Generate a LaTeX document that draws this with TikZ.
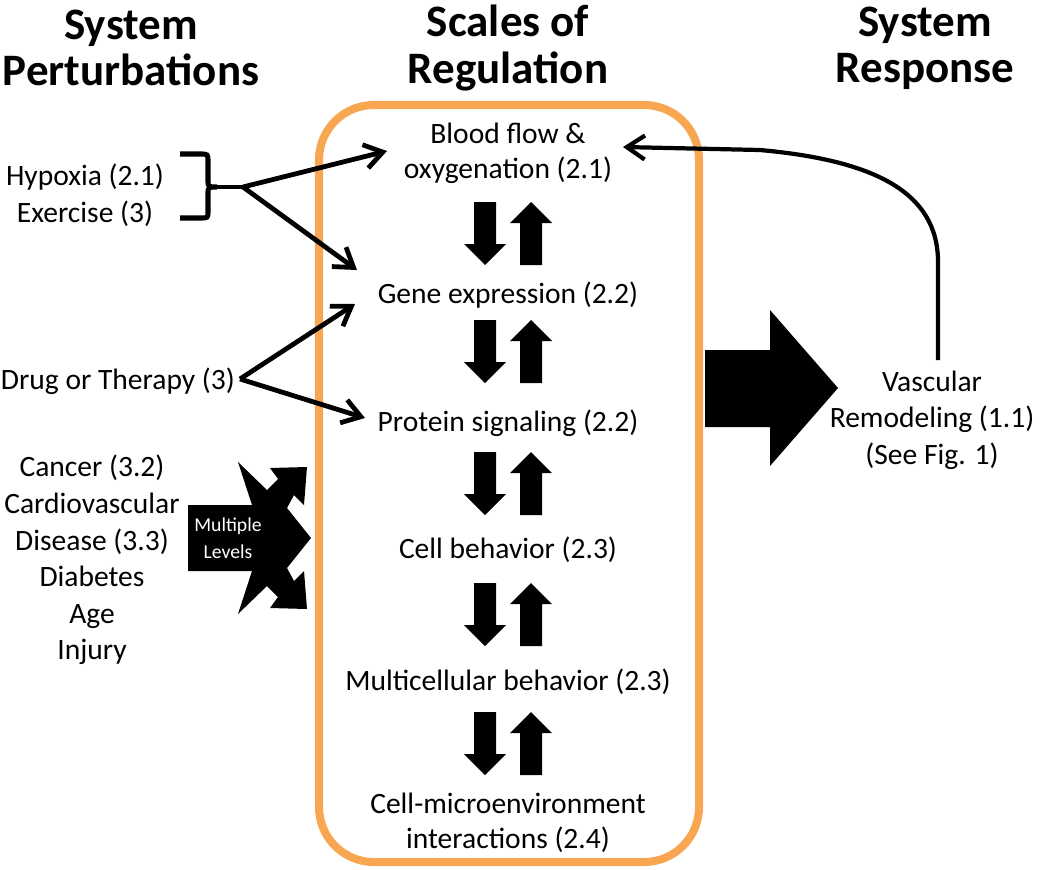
\documentclass[tikz,border=0pt]{standalone}
\usepackage{fontspec}
\setmainfont{Carlito}
\usetikzlibrary{arrows.meta}
\definecolor{boxorange}{RGB}{248,166,82}

\tikzset{
  title/.style={font=\bfseries\fontsize{32}{33}\selectfont, align=center},
  level/.style={font=\fontsize{21}{25}\selectfont, align=center},
  side/.style={font=\fontsize{21}{26}\selectfont, align=center},
  link/.style={line width=3.4pt, -{Straight Barb[length=4.5mm,width=6mm]}},
}

\begin{document}
\begin{tikzpicture}[x=0.025cm,y=-0.025cm]
      \useasboundingbox (0,0) rectangle (1050,869);
      % column titles
      \node [title] (tpert) at (131,48) {System\\Perturbations};
      \node [title] (treg) at (508,48) {Scales of\\Regulation};
      \node [title] (tresp) at (925,48) {System\\Response};
      % frame round the scales
      \draw [boxorange,line width=5.7pt,rounded corners=39pt] (319,105) rectangle (699,862);
      \node [level] (blood) at (508,153) {Blood flow \&\\oxygenation (2.1)};
      \node [level] (gene) at (508,295) {Gene expression (2.2)};
      \node [level] (prot) at (508,423) {Protein signaling (2.2)};
      \node [level] (cell) at (508,550) {Cell behavior (2.3)};
      \node [level] (multi) at (508,682) {Multicellular behavior (2.3)};
      \node [level] (micro) at (508,823) {Cell-microenvironment\\interactions (2.4)};
      \foreach \y in {202,320,452,583,712} {
        \fill (474,\y) -- (496,\y) -- (496,\y+42) -- (506,\y+42) -- (485,\y+63) -- (464,\y+42) -- (474,\y+42) -- cycle;
        \fill (531,\y) -- (552,\y+21) -- (542,\y+21) -- (542,\y+63) -- (520,\y+63) -- (520,\y+21) -- (510,\y+21) -- cycle;
      }
      % perturbations
      \node [side] (hyp) at (85,195) {Hypoxia (2.1)\\Exercise (3)};
      \node [side,anchor=west] (drug) at (-4,381) {Drug or Therapy (3)};
      \node [side] (dis) at (92,560) {Cancer (3.2)\\Cardiovascular\\Disease (3.3)\\Diabetes\\Age\\Injury};
      \draw [line width=3.6pt] (180,154) -- (200,154) .. controls (208,154) .. (208,162) -- (208,180) .. controls (208,187) .. (217,187) .. controls (208,187) .. (208,194) -- (208,211) .. controls (208,218) .. (200,218) -- (180,218);
      \coordinate (btip) at (217,187);
      \coordinate (fork) at (243,187);
      \coordinate (bloodin) at (387,151);
      \coordinate (genein) at (357,270);
      \draw [line width=3.4pt] (btip) -- (fork);
      \draw [link] (fork) -- (bloodin);
      \draw [link] (fork) -- (genein);
      \coordinate (drugout) at (240,379);
      \coordinate (genein2) at (355,304);
      \coordinate (protin) at (365,418);
      \draw [link] (drugout) -- (genein2);
      \draw [link] (drugout) -- (protin);
      % multiple levels block
      \fill (188,505) -- (252,505) -- (238,462) -- (267,490) -- (278,479) -- (270,468) -- (307,467) -- (304,505) -- (294,495) -- (287,508) -- (311,538) -- (287,568) -- (294,581) -- (304,571) -- (307,609) -- (270,608) -- (278,597) -- (267,586) -- (238,614) -- (252,571) -- (188,571) -- cycle;
      \node [text=white,align=center,font=\fontsize{14}{19}\selectfont] (mult) at (228,538) {Multiple\\Levels};
      % response
      \fill (705,350) -- (770,350) -- (770,310) -- (838,388) -- (770,466) -- (770,427) -- (705,427) -- cycle;
      \node [side] (vasc) at (932,420) {Vascular\\Remodeling (1.1)\\(See Fig. 1)};
      \coordinate (vasctop) at (938,360);
      \coordinate (bloodout) at (623,147);
      \draw [link,line width=3pt] (vasctop) -- (938,262) .. controls (938,190) and (870,160) .. (760,150) -- (bloodout);
    \end{tikzpicture}
\end{document}
